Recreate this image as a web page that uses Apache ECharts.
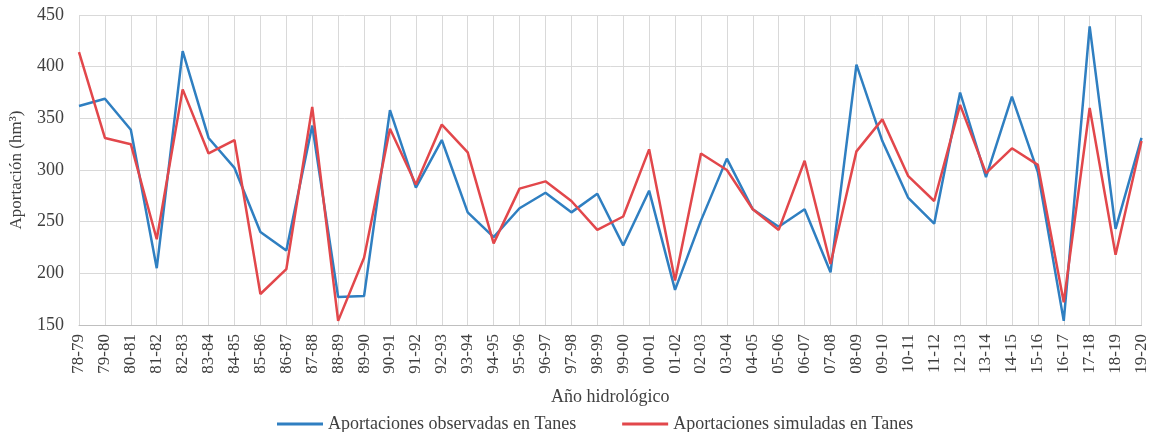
<!DOCTYPE html>
<html>
<head>
<meta charset="utf-8">
<script src="https://cdn.jsdelivr.net/npm/echarts@6/dist/echarts.min.js"></script>
<style>html,body{margin:0;padding:0;background:#fff;}#c{width:1150px;height:432px;}</style>
</head>
<body>
<div id="c"></div>
<script>
const categories = ["78-79","79-80","80-81","81-82","82-83","83-84","84-85","85-86","86-87","87-88","88-89","89-90","90-91","91-92","92-93","93-94","94-95","95-96","96-97","97-98","98-99","99-00","00-01","01-02","02-03","03-04","04-05","05-06","06-07","07-08","08-09","09-10","10-11","11-12","12-13","13-14","14-15","15-16","16-17","17-18","18-19","19-20"];
const observed = [362,369,339,205,415,331,302,240,222,343,177,178,358,283,329,259,235,263,278,259,277,227,280,184,251,311,262,245,262,201,402,328,273,248,375,293,371,298,154,439,243,331];
const simulated = [414,331,325,233,378,316,329,180,204,361,154,215,340,286,344,317,229,282,289,270,242,255,320,193,316,300,262,242,309,209,318,349,294,270,363,297,321,305,172,360,218,328];
const yTicks = {min:150, max:450, interval:50};
const seriesNames = ["Aportaciones observadas en Tanes","Aportaciones simuladas en Tanes"];

const font = "'Liberation Serif', 'DejaVu Serif', serif";
const chart = echarts.init(document.getElementById('c'));
chart.setOption({
  animation:false,
  textStyle:{fontFamily:font},
  grid:{left:78, right:2, top:15, bottom:107, containLabel:false},
  legend:{
    top:410, left:272, itemWidth:46, itemHeight:3, itemGap:46, icon:'rect',
    textStyle:{fontFamily:font, fontSize:18, color:'#404040'},
    data:seriesNames
  },
  xAxis:{
    type:'category', data:categories, boundaryGap:false,
    name:'Año hidrológico', nameLocation:'middle', nameGap:63,
    nameTextStyle:{fontFamily:font, fontSize:18, color:'#404040'},
    axisLine:{lineStyle:{color:'#bfbfbf', width:1}},
    axisTick:{show:false},
    axisLabel:{rotate:90, interval:0, fontFamily:font, fontSize:17, color:'#404040', margin:9},
    splitLine:{show:true, lineStyle:{color:'#d9d9d9', width:1}}
  },
  yAxis:{
    type:'value', min:yTicks.min, max:yTicks.max, interval:yTicks.interval,
    name:'Aportación (hm³)', nameLocation:'middle', nameGap:54,
    nameTextStyle:{fontFamily:font, fontSize:17, color:'#404040'},
    axisLine:{show:false}, axisTick:{show:false},
    axisLabel:{fontFamily:font, fontSize:18, color:'#404040', margin:15},
    splitLine:{show:true, lineStyle:{color:'#d9d9d9', width:1}}
  },
  series:[
    {name:seriesNames[0], type:'line', data:observed, symbol:'none', lineStyle:{color:'#2f7fc1', width:2.5}, itemStyle:{color:'#2f7fc1'}},
    {name:seriesNames[1], type:'line', data:simulated, symbol:'none', lineStyle:{color:'#e2474b', width:2.5}, itemStyle:{color:'#e2474b'}}
  ]
});
</script>
</body>
</html>
